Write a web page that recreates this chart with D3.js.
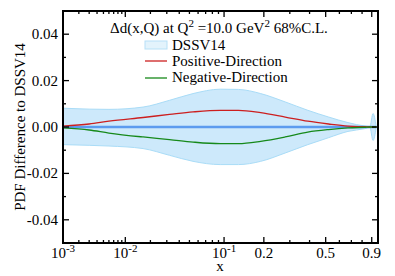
<!DOCTYPE html>
<html>
<head>
<meta charset="utf-8">
<script src="https://cdn.jsdelivr.net/npm/d3@7"></script>
<style>
  body { margin: 0; background: #fff; }
  svg { display: block; }
  text { font-family: "Liberation Serif", "Times New Roman", serif; font-size: 15px; fill: #000; }
</style>
</head>
<body>
<svg width="395" height="276"></svg>
<script>
// values
var xVals   = [0.001, 0.003, 0.006, 0.0165, 0.032, 0.054, 0.093, 0.13, 0.19, 0.28, 0.39, 0.52, 0.67, 0.83, 0.88, 0.914, 0.95];
var bandUp  = [0.0081, 0.0077, 0.0076, 0.0086, 0.0115, 0.0144, 0.0163, 0.0162, 0.0144, 0.0108, 0.0072, 0.0043, 0.0019, 0.0004, 0.0002, 0.0058, 0.0002];
var bandLo  = [-0.0076, -0.0079, -0.0082, -0.0093, -0.0122, -0.0148, -0.0162, -0.0162, -0.0148, -0.0112, -0.0076, -0.0046, -0.0019, -0.0007, -0.0002, -0.0058, -0.0002];
var posDir  = [0.0004, 0.0013, 0.0025, 0.0041, 0.0054, 0.0065, 0.0072, 0.0072, 0.0062, 0.0043, 0.0025, 0.0013, 0.0004, 0.0001, 0, 0, 0];
var negDir  = [-0.0004, -0.0013, -0.0026, -0.0043, -0.0054, -0.0065, -0.0072, -0.0072, -0.0062, -0.0043, -0.0022, -0.0011, -0.0004, -0.0001, 0, 0, 0];
var central = [0, 0, 0, 0, 0, 0, 0, 0, 0, 0, 0, 0, 0, 0, 0, 0, 0];

var xMajor  = [0.001, 0.01, 0.1, 0.2, 0.5, 0.9];
var xLabels = [["10", "-3"], ["10", "-2"], ["10", "-1"], ["0.2", ""], ["0.5", ""], ["0.9", ""]];
var xMinor  = [0.002, 0.003, 0.004, 0.005, 0.006, 0.007, 0.008, 0.009,
               0.02, 0.03, 0.04, 0.05, 0.06, 0.07, 0.08, 0.09,
               0.3, 0.4, 0.6, 0.7, 0.8];
var yMajor  = [-0.04, -0.02, 0, 0.02, 0.04];
var yMinor  = [-0.05, -0.03, -0.01, 0.01, 0.03, 0.05];
var legendLabels = ["DSSV14", "Positive-Direction", "Negative-Direction"];

var L = 63, R = 378, T = 11, B = 243;

var svg = d3.select('svg');

var x = d3.scalePow().exponent(0.2).domain([0.001, 0.97]).range([L, R]);
var y = d3.scaleLinear().domain([-0.05, 0.05]).range([B, T]);

var pts = xVals.map(function(d, i) {
   return {x: d, up: bandUp[i], lo: bandLo[i], pos: posDir[i], neg: negDir[i], c: central[i]};
});

// uncertainty band
var area = d3.area()
   .x(function(d) { return x(d.x); })
   .y0(function(d) { return y(d.lo); })
   .y1(function(d) { return y(d.up); })
   .curve(d3.curveMonotoneX);

svg.append('path')
   .datum(pts)
   .attr('d', area)
   .attr('fill', '#cde9fb')
   .attr('stroke', '#a9dcf7')
   .attr('stroke-width', 1);

function line(key) {
   return d3.line()
      .x(function(d) { return x(d.x); })
      .y(function(d) { return y(d[key]); })
      .curve(d3.curveMonotoneX);
}

svg.append('path').datum(pts).attr('d', line('c'))
   .attr('fill', 'none').attr('stroke', '#5b9bef').attr('stroke-width', 2.5);
svg.append('path').datum(pts).attr('d', line('pos'))
   .attr('fill', 'none').attr('stroke', '#cc1f1f').attr('stroke-width', 1.3);
svg.append('path').datum(pts).attr('d', line('neg'))
   .attr('fill', 'none').attr('stroke', '#16891a').attr('stroke-width', 1.3);

// ticks, inward on all four sides
var tk = svg.append('g').attr('stroke', '#000').attr('stroke-width', 1.3);
function xTicks(vals, len) {
   vals.forEach(function(v) {
      tk.append('line').attr('x1', x(v)).attr('x2', x(v)).attr('y1', B).attr('y2', B - len);
      tk.append('line').attr('x1', x(v)).attr('x2', x(v)).attr('y1', T).attr('y2', T + len);
   });
}
function yTicks(vals, len) {
   vals.forEach(function(v) {
      tk.append('line').attr('y1', y(v)).attr('y2', y(v)).attr('x1', L).attr('x2', L + len);
      tk.append('line').attr('y1', y(v)).attr('y2', y(v)).attr('x1', R).attr('x2', R - len);
   });
}
xTicks(xMajor, 6);
xTicks(xMinor, 3);
yTicks(yMajor, 6);
yTicks(yMinor, 3);

// frame
svg.append('rect')
   .attr('x', L).attr('y', T).attr('width', R - L).attr('height', B - T)
   .attr('fill', 'none').attr('stroke', '#000').attr('stroke-width', 2);

// tick labels
xMajor.forEach(function(v, i) {
   var t = svg.append('text').attr('x', x(v)).attr('y', 258).attr('text-anchor', 'middle');
   t.append('tspan').text(xLabels[i][0]);
   if (xLabels[i][1]) {
      t.append('tspan').attr('dy', -6).style('font-size', '11px').text(xLabels[i][1]);
   }
});
yMajor.forEach(function(v) {
   svg.append('text').attr('x', 58).attr('y', y(v) + 5)
      .attr('text-anchor', 'end').text(d3.format('.2f')(v).replace('−', '-'));
});

// axis titles
svg.append('text').attr('x', 220).attr('y', 271).attr('text-anchor', 'middle').text('x');
svg.append('text')
   .attr('transform', 'translate(25,' + ((T + B) / 2) + ') rotate(-90)')
   .attr('text-anchor', 'middle')
   .text('PDF Difference to DSSV14');

// title
var title = svg.append('text').attr('x', 110).attr('y', 33);
title.append('tspan').text('\u0394d(x,Q) at Q');
title.append('tspan').attr('dy', -6).style('font-size', '11px').text('2');
title.append('tspan').attr('dy', 6).text(' =10.0 GeV');
title.append('tspan').attr('dy', -6).style('font-size', '11px').text('2');
title.append('tspan').attr('dy', 6).text(' 68%C.L.');

// legend
var leg = svg.append('g');
leg.append('rect').attr('x', 145).attr('y', 41).attr('width', 22).attr('height', 8)
   .attr('fill', '#e3f3fc').attr('stroke', '#b7e0f7').attr('stroke-width', 1);
leg.append('line').attr('x1', 145).attr('x2', 167).attr('y1', 61).attr('y2', 61)
   .attr('stroke', '#cc1f1f').attr('stroke-width', 1.3);
leg.append('line').attr('x1', 145).attr('x2', 167).attr('y1', 78).attr('y2', 78)
   .attr('stroke', '#16891a').attr('stroke-width', 1.3);
legendLabels.forEach(function(s, i) {
   leg.append('text').attr('x', 172).attr('y', 50 + i * 16).text(s);
});
</script>
</body>
</html>
